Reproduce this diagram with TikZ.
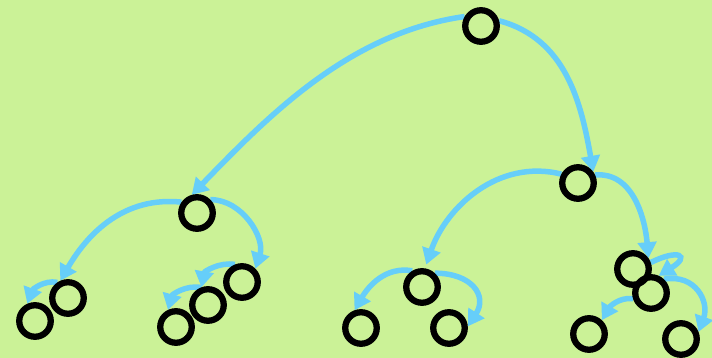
\documentclass[tikz,border=0pt]{standalone}
\usetikzlibrary{arrows.meta,backgrounds}
\definecolor{bgc}{RGB}{203,242,151}
\definecolor{edgec}{RGB}{102,206,249}
\tikzset{
  vtx/.style={circle,draw=black,line width=6.3pt,minimum size=31.5pt,inner sep=0pt},
  edge/.style={draw=edgec,line width=5.5pt,-{Triangle[length=16pt,width=18.5pt]}}
}
\begin{document}
\begin{tikzpicture}[x=1pt,y=1pt]
\useasboundingbox (0,0) rectangle (712,358);
\node[vtx] (R) at (481,332) {};
\node[vtx] (A) at (197,145) {};
\node[vtx] (B) at (578,175) {};
\node[vtx] (AL) at (68,60) {};
\node[vtx] (ALL) at (35,37) {};
\node[vtx] (AR) at (242,76) {};
\node[vtx] (ARL) at (208,53) {};
\node[vtx] (ARLL) at (176,31) {};
\node[vtx] (BL) at (422,71) {};
\node[vtx] (BLL) at (361,30) {};
\node[vtx] (BLR) at (449,30) {};
\node[vtx] (BR) at (633,89) {};
\node[vtx] (BRR) at (651,65) {};
\node[vtx] (BRRL) at (589,24) {};
\node[vtx] (BRRR) at (681,19) {};
\begin{pgfonlayer}{background}
\fill[bgc] (0,0) rectangle (712,358);
\draw[edge] (R.150) to[out=188,in=46,looseness=0.9] (A.106);
\draw[edge] (R.16) to[out=-15,in=100] (B.36);
\draw[edge] (A.145) to[out=174,in=60] (AL.114);
\draw[edge] (A.45) to[out=0,in=72] (AR.45);
\draw[edge] (AL.124) to[out=170,in=70] (ALL.114);
\draw[edge] (AR.112) to[out=170,in=80] (ARL.110);
\draw[edge] (ARL.112) to[out=170,in=75] (ARLL.115);
\draw[edge,shorten >=4pt] (B.152) to[out=166,in=71] (BL.81);
\draw[edge] (B.25) to[out=5,in=95] (BR.35);
\draw[edge] (BL.121) to[out=170,in=60] (BLL.110);
\draw[edge] (BL.47) to[out=0,in=57,looseness=1.5] (BLR.5);
\draw[edge] (BR.20) .. controls +(28,14) and +(32,20) .. (BRR.66);
\draw[edge] (BRR.197) to[out=175,in=60] (BRRL.47);
\draw[edge] (BRR.47) to[out=10,in=70,looseness=1.3] (BRRR.22);
\end{pgfonlayer}
\end{tikzpicture}
\end{document}
